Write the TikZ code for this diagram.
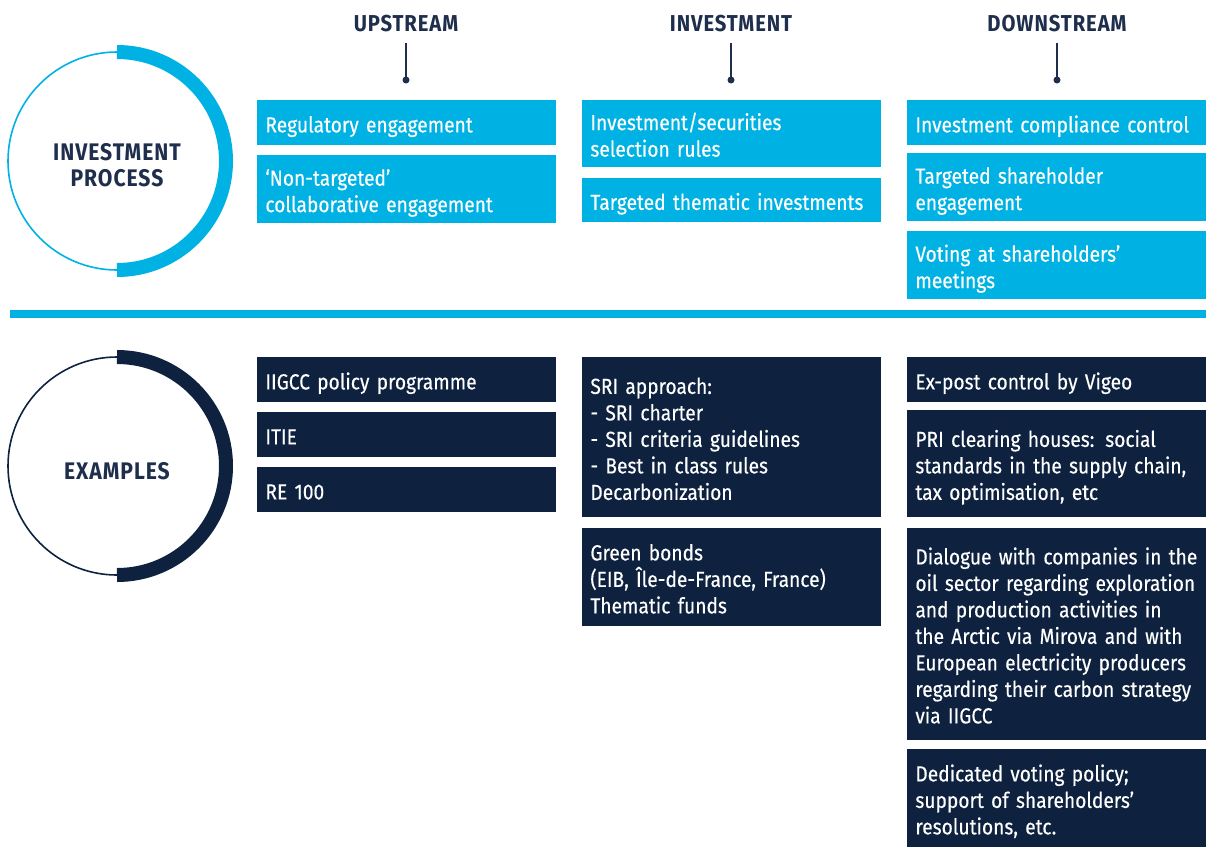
\documentclass[tikz,border=0pt]{standalone}
\usepackage{fontspec}
\setmainfont{Fira Sans}[FakeStretch=0.88, UprightFeatures={FakeBold=0.3}]
\usetikzlibrary{positioning}
\definecolor{procblue}{HTML}{00B2E3}
\definecolor{exnavy}{HTML}{0E2240}
\definecolor{headnavy}{HTML}{1E2E4C}
\begin{document}
\begin{tikzpicture}[x=0.5pt, y=-0.5pt,
    box/.style={anchor=north west, inner xsep=4pt, inner ysep=0pt,
      text width=141.5pt, align=left, text=white,
      font=\fontsize{10.9}{13.25}\selectfont,
      execute at begin node={\rule{0pt}{12pt}},
      execute at end node={\rule[-2.5pt]{0pt}{2.5pt}}},
    proc/.style={box, fill=procblue},
    ex/.style={box, fill=exnavy},
    head/.style={anchor=base, inner ysep=6pt, text depth=0pt, text=headnavy,
      font=\fontsize{11.5}{13}\selectfont\bfseries\addfontfeature{LetterSpace=4}},
    ring/.style={circle, draw, line width=0.8pt, minimum size=109pt,
      inner sep=0pt, outer sep=0pt},
    ringtext/.style={align=center, inner sep=0pt, text=headnavy,
      font=\fontsize{12}{13.25}\selectfont\bfseries\addfontfeature{LetterSpace=4}}]
  \useasboundingbox (0,0) rectangle (1208,847);

  % column heads
  \foreach \name/\x/\txt in {upstream/406/UPSTREAM, investment/731/INVESTMENT,
      downstream/1057/DOWNSTREAM} {
    \node[head] (\name) at (\x,31) {\txt};
    \coordinate (\name dot) at (\x,80);
    \draw[headnavy, line width=1pt] (\name) -- (\name dot);
    \fill[headnavy] (\name dot) circle (3.5);
  }

  % investment process
  \node[ring, draw=procblue] (procring) at (117,161) {};
  \node[ringtext] (proclabel) at (117,165) {INVESTMENT\\PROCESS};
  \draw[procblue, line width=7pt] (procring.north)
    arc[start angle=-90, end angle=90, radius=109];

  \node[proc, minimum height=22.5pt] (reg) at (257,100) {Regulatory engagement};
  \node[proc, minimum height=34pt] (nontarg) at (257,155)
    {‘Non-targeted’\\collaborative engagement};
  \node[proc, minimum height=33.5pt] (selrules) at (582,100)
    {Investment/securities\\selection rules};
  \node[proc, minimum height=22pt] (thematic) at (582,178)
    {Targeted thematic investments};
  \node[proc, minimum height=22.5pt] (compliance) at (907,100)
    {Investment compliance control};
  \node[proc, minimum height=34pt] (targeng) at (907,153)
    {Targeted shareholder\\engagement};
  \node[proc, minimum height=34pt] (voting) at (907,231)
    {Voting at shareholders’\\meetings};

  % divider
  \fill[procblue] (10,310) rectangle (1206,318);

  % examples
  \node[ring, draw=exnavy] (exring) at (117,466) {};
  \node[ringtext] (exlabel) at (117,471.5) {EXAMPLES};
  \draw[exnavy, line width=7pt] (exring.north)
    arc[start angle=-90, end angle=90, radius=109];

  \node[ex, minimum height=22.5pt] (iigcc) at (257,357) {IIGCC policy programme};
  \node[ex, minimum height=22.5pt] (itie) at (257,412) {ITIE};
  \node[ex, minimum height=22.5pt] (re100) at (257,467) {RE 100};
  \node[ex, minimum height=80pt] (sri) at (582,357)
    {SRI approach:\\- SRI charter\\- SRI criteria guidelines\\- Best in class rules\\Decarbonization};
  \node[ex, minimum height=49pt] (green) at (582,528)
    {Green bonds\\(EIB, Île-de-France, France)\\Thematic funds};
  \node[ex, minimum height=22.5pt] (vigeo) at (907,357) {Ex-post control by Vigeo};
  \node[ex, minimum height=53.5pt] (pri) at (907,410)
    {PRI clearing houses: social\\standards in the supply chain,\\tax optimisation, etc};
  \node[ex, minimum height=106pt] (dialogue) at (907,528)
    {Dialogue with companies in the\\oil sector regarding exploration\\and production activities in\\the Arctic via Mirova and with\\European electricity producers\\regarding their carbon strategy\\via IIGCC};
  \node[ex, minimum height=49pt] (dedicated) at (907,749)
    {Dedicated voting policy;\\support of shareholders’\\resolutions, etc.};
\end{tikzpicture}
\end{document}
